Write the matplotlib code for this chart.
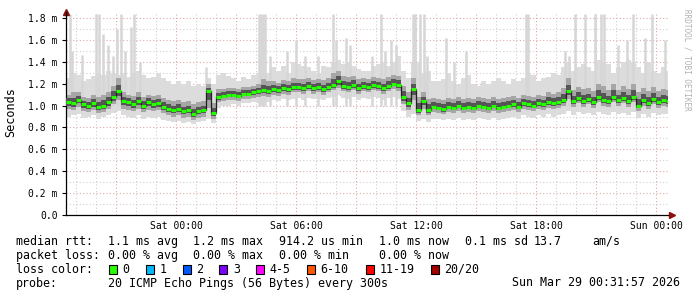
import numpy as np
import matplotlib
matplotlib.use("Agg")
import matplotlib.pyplot as plt
from matplotlib.patches import Rectangle

# median rtt in ms, one value every 15 min starting Fri 18:30 (hours rel. to Sat 00:00)
median = [1.03, 1.02, 1.05, 1.01, 1.00, 1.02, 0.99, 1.00, 1.03, 1.08,
          1.13, 1.04, 1.03, 1.01, 1.04, 1.00, 1.03, 1.01, 1.02, 0.99,
          0.97, 0.96, 0.97, 0.95, 0.96, 0.92, 0.95, 0.96, 1.13, 0.93,
          1.08, 1.09, 1.10, 1.10, 1.09, 1.11, 1.11, 1.12, 1.13, 1.14,
          1.13, 1.15, 1.14, 1.16, 1.15, 1.17, 1.17, 1.16, 1.18, 1.16,
          1.17, 1.15, 1.17, 1.19, 1.22, 1.18, 1.17, 1.19, 1.16, 1.18,
          1.17, 1.19, 1.18, 1.16, 1.18, 1.20, 1.19, 1.08, 1.02, 1.15,
          0.96, 1.04, 0.96, 0.99, 0.98, 0.97, 0.99, 0.98, 1.00, 0.98,
          0.99, 0.98, 1.00, 0.99, 0.98, 1.00, 0.98, 0.99, 1.00, 1.01,
          0.99, 1.02, 1.01, 1.00, 1.02, 1.01, 1.03, 1.02, 1.03, 1.05,
          1.13, 1.04, 1.07, 1.04, 1.06, 1.03, 1.08, 1.05, 1.04, 1.08,
          1.05, 1.07, 1.04, 1.08, 1.00, 1.05, 1.02, 1.06, 1.03, 1.05,
          1.04]

# lowest ping
lo = [0.90, 0.91, 0.92, 0.89, 0.90, 0.91, 0.88, 0.90, 0.91, 0.93,
      0.95, 0.91, 0.90, 0.89, 0.91, 0.88, 0.90, 0.89, 0.90, 0.87,
      0.86, 0.85, 0.86, 0.84, 0.85, 0.83, 0.85, 0.86, 0.88, 0.84,
      0.98, 1.00, 1.00, 1.01, 1.00, 1.02, 1.02, 1.03, 1.02, 1.04,
      1.03, 1.05, 1.04, 1.06, 1.05, 1.06, 1.07, 1.05, 1.07, 1.06,
      1.06, 1.05, 1.07, 1.08, 1.10, 1.07, 1.06, 1.08, 1.05, 1.07,
      1.06, 1.08, 1.07, 1.05, 1.07, 1.08, 1.06, 0.95, 0.90, 0.92,
      0.86, 0.88, 0.85, 0.88, 0.88, 0.87, 0.88, 0.87, 0.89, 0.87,
      0.88, 0.87, 0.89, 0.88, 0.87, 0.89, 0.87, 0.88, 0.89, 0.90,
      0.88, 0.91, 0.90, 0.89, 0.91, 0.90, 0.92, 0.90, 0.91, 0.92,
      0.95, 0.91, 0.94, 0.92, 0.93, 0.91, 0.94, 0.92, 0.91, 0.94,
      0.92, 0.93, 0.91, 0.94, 0.89, 0.92, 0.90, 0.93, 0.91, 0.92,
      0.92]

# lower / upper edge of the dense smoke
q1 = [0.97, 0.96, 0.99, 0.95, 0.94, 0.96, 0.93, 0.94, 0.97, 1.01,
      1.05, 0.97, 0.96, 0.95, 0.97, 0.94, 0.96, 0.95, 0.96, 0.93,
      0.91, 0.90, 0.91, 0.89, 0.90, 0.87, 0.89, 0.90, 0.98, 0.88,
      1.03, 1.04, 1.05, 1.05, 1.04, 1.06, 1.06, 1.07, 1.08, 1.09,
      1.08, 1.10, 1.09, 1.11, 1.10, 1.12, 1.12, 1.11, 1.13, 1.11,
      1.12, 1.10, 1.12, 1.14, 1.16, 1.13, 1.12, 1.14, 1.11, 1.13,
      1.12, 1.14, 1.13, 1.11, 1.13, 1.15, 1.13, 1.01, 0.96, 1.05,
      0.91, 0.97, 0.91, 0.94, 0.93, 0.92, 0.94, 0.93, 0.95, 0.93,
      0.94, 0.93, 0.95, 0.94, 0.93, 0.95, 0.93, 0.94, 0.95, 0.96,
      0.94, 0.97, 0.96, 0.95, 0.97, 0.96, 0.98, 0.97, 0.98, 1.00,
      1.06, 0.99, 1.02, 0.99, 1.01, 0.98, 1.03, 1.00, 0.99, 1.03,
      1.00, 1.02, 0.99, 1.03, 0.95, 1.00, 0.97, 1.01, 0.98, 1.00,
      0.99]

q3 = [1.10, 1.12, 1.12, 1.08, 1.07, 1.10, 1.08, 1.10, 1.12, 1.18,
      1.25, 1.12, 1.10, 1.09, 1.12, 1.08, 1.10, 1.09, 1.10, 1.07,
      1.05, 1.04, 1.05, 1.03, 1.04, 1.01, 1.03, 1.04, 1.20, 1.02,
      1.15, 1.15, 1.16, 1.16, 1.15, 1.17, 1.17, 1.18, 1.20, 1.24,
      1.22, 1.22, 1.21, 1.23, 1.22, 1.25, 1.24, 1.24, 1.25, 1.23,
      1.24, 1.23, 1.25, 1.30, 1.32, 1.27, 1.26, 1.27, 1.24, 1.25,
      1.24, 1.26, 1.25, 1.24, 1.26, 1.28, 1.27, 1.18, 1.12, 1.25,
      1.08, 1.12, 1.06, 1.07, 1.06, 1.05, 1.07, 1.06, 1.08, 1.06,
      1.07, 1.06, 1.08, 1.07, 1.06, 1.08, 1.06, 1.07, 1.08, 1.09,
      1.07, 1.10, 1.09, 1.08, 1.10, 1.09, 1.12, 1.11, 1.12, 1.16,
      1.25, 1.14, 1.17, 1.15, 1.16, 1.13, 1.20, 1.18, 1.14, 1.20,
      1.14, 1.18, 1.15, 1.20, 1.12, 1.16, 1.13, 1.17, 1.13, 1.15,
      1.14]

# upper envelope of the light smoke
hi = [1.25, 1.30, 1.28, 1.22, 1.24, 1.27, 1.30, 1.28, 1.32, 1.30,
      1.28, 1.30, 1.26, 1.30, 1.32, 1.28, 1.25, 1.26, 1.30, 1.25,
      1.22, 1.20, 1.22, 1.20, 1.22, 1.18, 1.20, 1.18, 1.25, 1.20,
      1.28, 1.30, 1.27, 1.25, 1.22, 1.26, 1.24, 1.28, 1.30, 1.32,
      1.30, 1.35, 1.32, 1.36, 1.30, 1.40, 1.38, 1.36, 1.35, 1.32,
      1.30, 1.36, 1.35, 1.40, 1.42, 1.38, 1.40, 1.36, 1.33, 1.32,
      1.32, 1.36, 1.38, 1.40, 1.36, 1.40, 1.45, 1.32, 1.25, 1.40,
      1.40, 1.30, 1.32, 1.22, 1.22, 1.24, 1.30, 1.22, 1.20, 1.25,
      1.28, 1.20, 1.18, 1.22, 1.20, 1.22, 1.25, 1.22, 1.20, 1.24,
      1.22, 1.25, 1.30, 1.28, 1.22, 1.25, 1.26, 1.30, 1.28, 1.35,
      1.40, 1.32, 1.35, 1.38, 1.35, 1.32, 1.42, 1.40, 1.38, 1.30,
      1.35, 1.40, 1.42, 1.40, 1.35, 1.30, 1.40, 1.32, 1.30, 1.35,
      1.32]

# single tall outliers: time (h rel. Sat 00:00) and value (ms)
spike_t = [-5.30, -5.20, -4.70, -4.00, -3.85, -3.65, -3.40, -3.15, -2.95, -2.75,
           -2.55, -2.25, -2.10, -1.80, 1.50, 4.15, 4.25, 4.35, 4.45, 4.70,
           5.55, 6.00, 6.45, 7.10, 7.85, 8.00, 8.50, 8.70, 9.80, 10.25,
           10.45, 10.75, 11.00, 11.85, 11.95, 12.20, 12.40, 12.55, 13.50, 13.90,
           14.50, 17.50, 17.60, 19.45, 19.65, 19.95, 20.45, 20.95, 21.25, 21.40,
           22.10, 22.55, 22.85, 23.45, 23.80, 24.45]
spike_v = [1.84, 1.50, 1.46, 1.84, 1.84, 1.65, 1.55, 1.45, 1.70, 1.84,
           1.50, 1.72, 1.84, 1.40, 1.35, 1.84, 1.84, 1.84, 1.84, 1.45,
           1.50, 1.60, 1.45, 1.45, 1.84, 1.60, 1.62, 1.55, 1.45, 1.84,
           1.50, 1.60, 1.55, 1.84, 1.84, 1.84, 1.84, 1.45, 1.62, 1.40,
           1.50, 1.84, 1.84, 1.50, 1.45, 1.84, 1.84, 1.84, 1.84, 1.84,
           1.55, 1.60, 1.84, 1.62, 1.84, 1.60]

x_ticks = [0, 6, 12, 18, 24]
x_labels = ["Sat 00:00", "Sat 06:00", "Sat 12:00", "Sat 18:00", "Sun 00:00"]
y_ticks = [0.0, 0.2, 0.4, 0.6, 0.8, 1.0, 1.2, 1.4, 1.6, 1.8]
y_labels = ["0.0"] + ["%.1f m" % v for v in y_ticks[1:]]

loss_labels = ["0", "1", "2", "3", "4-5", "6-10", "11-19", "20/20"]
loss_colors = ["#26ff00", "#00b8ff", "#0059ff", "#7e00ff", "#ff00ff",
               "#ff5500", "#ff0000", "#a10000"]

W, H = 697, 297
MONO = "DejaVu Sans Mono"

median = np.array(median)
lo, q1, q3, hi = map(np.array, (lo, q1, q3, hi))
edges = -5.5 + 0.25 * np.arange(len(median) + 1)

fig = plt.figure(figsize=(W / 100, H / 100), dpi=100)
ax = fig.add_axes([66 / W, 82 / H, 602 / W, 203 / H])

# grid
for h in np.arange(-5, 25, 1):
    c = "#e0a8a8" if h % 3 == 0 else "#cfcfcf"
    ax.axvline(h, color=c, lw=0.8, ls=(0, (1, 2)), zorder=0)
for v in np.arange(0.1, 1.85, 0.1):
    c = "#e0a8a8" if round(v * 10) % 2 == 0 else "#cfcfcf"
    ax.axhline(v, color=c, lw=0.8, ls=(0, (1, 2)), zorder=0)

# smoke
ax.stairs(hi, edges, baseline=lo, fill=True, color="#dcdcdc", lw=0, zorder=1)
ax.vlines(spike_t, 1.0, spike_v, color="#d6d6d6", lw=1.8, zorder=1)
ax.stairs(q3, edges, baseline=q1, fill=True, color="#a6a6a6", lw=0, zorder=2)
ax.stairs((q3 + median) / 2, edges, baseline=(q1 + median) / 2, fill=True,
          color="#555555", lw=0, zorder=3)
ax.stairs(median, edges, baseline=None, color="#202020", lw=0.9, zorder=4)
ax.hlines(median, edges[:-1], edges[1:], color="#26ff00", lw=2.2, zorder=5)

ax.set_xlim(-5.5, 24.6)
ax.set_ylim(0, 1.855)
ax.set_xticks(x_ticks)
ax.set_xticklabels(x_labels, fontsize=7, family=MONO)
ax.set_yticks(y_ticks)
ax.set_yticklabels(y_labels, fontsize=7, family=MONO)
ax.tick_params(axis="x", length=0, pad=4)
ax.tick_params(axis="y", length=3, width=0.8, pad=3)
for s in ("top", "right"):
    ax.spines[s].set_visible(False)
ax.spines["left"].set_linewidth(0.9)
ax.spines["bottom"].set_linewidth(0.9)

# axis arrows
ax.plot([0], [1.0], marker="^", ms=4, color="#8b1010", transform=ax.transAxes, clip_on=False)
ax.plot([1.006], [0.0], marker=">", ms=4, color="#8b1010", transform=ax.transAxes, clip_on=False)

fig.text(11 / W, 1 - 112 / H, "Seconds", rotation=90, ha="center", va="center",
         fontsize=8.5, family=MONO)
fig.text(687 / W, 1 - 60 / H, "RRDTOOL / TOBI OETIKER", rotation=270, ha="center",
         va="center", fontsize=5.5, family=MONO, color="#b0b0b0")


def put(x, y, s, **kw):
    fig.text(x / W, 1 - y / H, s, ha=kw.pop("ha", "left"), va="center",
             fontsize=8.4, family=MONO, **kw)


put(16, 241.5, "median rtt:")
put(107.7, 241.5, "1.1 ms avg")
put(193.3, 241.5, "1.2 ms max")
put(279.3, 241.5, "914.2 us min")
put(379.3, 241.5, "1.0 ms now")
put(465.3, 241.5, "0.1 ms sd")
put(533.5, 241.5, "13.7")
put(592.7, 241.5, "am/s")

put(16, 255.5, "packet loss:")
put(107.7, 255.5, "0.00 % avg")
put(193.3, 255.5, "0.00 % max")
put(279.3, 255.5, "0.00 % min")
put(379.3, 255.5, "0.00 % now")

put(16, 269.5, "loss color:")
box_x = [109, 146, 182.7, 219.3, 256, 306.7, 366, 430.7]
for bx, lab, col in zip(box_x, loss_labels, loss_colors):
    fig.add_artist(Rectangle((bx / W, 1 - 273.5 / H), 8 / W, 8.5 / H,
                             transform=fig.transFigure, fc=col, ec="black", lw=0.8))
    put(bx + 13.7, 269.5, lab)

put(16, 283, "probe:")
put(107.7, 283, "20 ICMP Echo Pings (56 Bytes) every 300s")
put(680, 283, "Sun Mar 29 00:31:57 2026", ha="right")

fig.savefig("out.png", dpi=100)
